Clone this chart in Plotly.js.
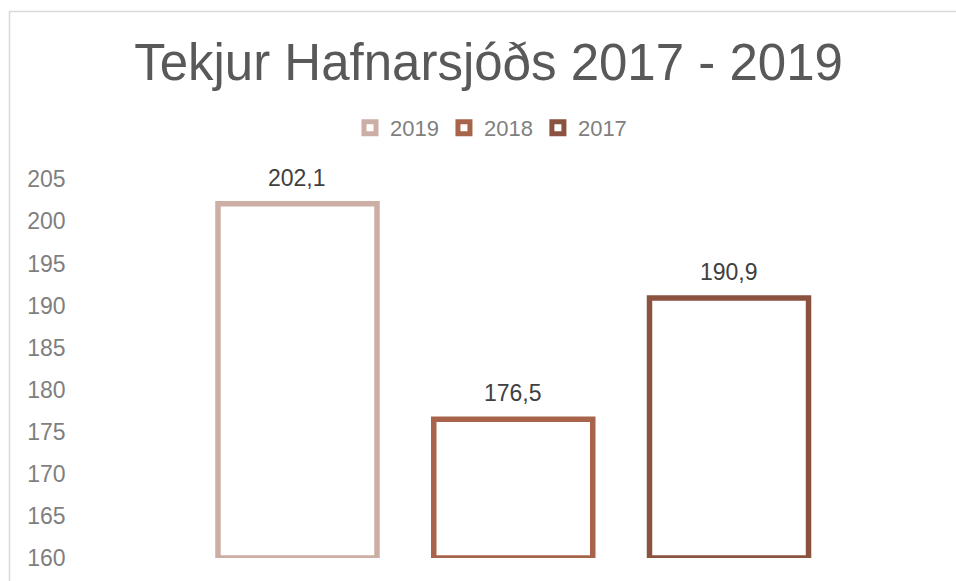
<!DOCTYPE html>
<html>
<head>
<meta charset="utf-8">
<script src="https://cdn.plot.ly/plotly-3.0.1.min.js"></script>
<style>html,body{margin:0;padding:0;background:#fff;}#chart{width:956px;height:581px;}</style>
</head>
<body>
<div id="chart"></div>
<script>
const seriesNames = ['2019', '2018', '2017'];
const values = [202.1, 176.5, 190.9];
const colors = ['#CDAEA4', '#A8644A', '#8B523F'];
const yTicks = [160, 165, 170, 175, 180, 185, 190, 195, 200, 205];

const W = 956, H = 581;
const traces = seriesNames.map((name, i) => ({
  type: 'bar',
  name: name,
  x: [i],
  y: [values[i] - 160],
  base: 160,
  width: 0.737,
  marker: {color: '#ffffff', line: {color: colors[i], width: 5.5}},
  hoverinfo: 'skip',
  cliponaxis: false
}));

const annotations = values.map((v, i) => ({
  x: i, y: v, xref: 'x', yref: 'y',
  text: v.toFixed(1).replace('.', ','),
  showarrow: false, yanchor: 'bottom', yshift: 11,
  font: {family: 'Liberation Sans, Arial, sans-serif', size: 23, color: '#404040'}
}));

const layout = {
  width: W, height: H,
  margin: {l: 0, r: 0, t: 0, b: 0},
  paper_bgcolor: '#ffffff', plot_bgcolor: '#ffffff',
  font: {family: 'Liberation Sans, Arial, sans-serif', color: '#7f7f7f'},
  title: {
    text: 'Tekjur Hafnarsjóðs 2017 - 2019',
    font: {size: 51, color: '#595959', family: 'Liberation Sans, Arial, sans-serif'},
    x: 488.5 / W, xanchor: 'center', xref: 'paper',
    y: 1 - 62 / H, yanchor: 'middle', yref: 'paper'
  },
  barmode: 'overlay',
  showlegend: true,
  legend: {
    orientation: 'h', x: 491 / W, xanchor: 'center', y: 1 - 128 / H, yanchor: 'middle',
    font: {size: 22, color: '#7f7f7f'}, itemwidth: 30, tracegroupgap: 0
  },
  xaxis: {
    domain: [189.6 / W, 836.9 / W], range: [-0.5, 2.5],
    showticklabels: false, showgrid: false, zeroline: false, showline: false, ticks: ''
  },
  yaxis: {
    domain: [1 - 558 / H, 1 - 179.3 / H], range: [160, 205],
    tickvals: yTicks, ticktext: yTicks.map(String),
    anchor: 'free', position: 65.5 / W,
    showgrid: false, zeroline: false, showline: false, ticks: '',
    tickfont: {size: 23, color: '#7f7f7f'}
  },
  annotations: annotations,
  shapes: [{
    type: 'rect', xref: 'paper', yref: 'paper',
    x0: 9.5 / W, x1: 1.2, y0: -0.2, y1: 1 - 11.5 / H,
    line: {color: '#d9d9d9', width: 1.5}, fillcolor: 'rgba(0,0,0,0)', layer: 'below'
  }]
};

Plotly.newPlot('chart', traces, layout, {displayModeBar: false, staticPlot: true});
</script>
</body>
</html>
